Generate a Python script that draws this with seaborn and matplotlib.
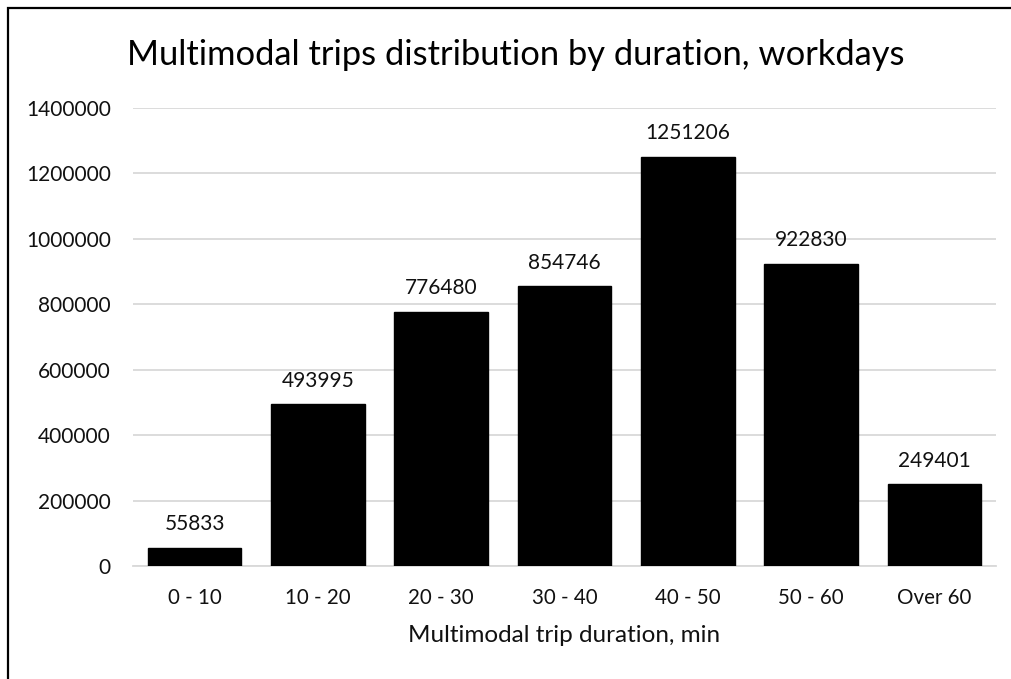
import matplotlib
matplotlib.use("Agg")
import matplotlib.pyplot as plt
import seaborn as sns
from matplotlib.patches import Rectangle

sns.set_theme(style="white")
plt.rcParams['font.family'] = ['Lato', 'DejaVu Sans']

# Daten
duracoes = ["0 - 10", "10 - 20", "20 - 30", "30 - 40", "40 - 50", "50 - 60", "Over 60"]
viagens = [55833, 493995, 776480, 854746, 1251206, 922830, 249401]
y_ticks = [0, 200000, 400000, 600000, 800000, 1000000, 1200000, 1400000]

fig = plt.figure(figsize=(10.12, 6.79), dpi=100)
ax = fig.add_axes([0.1314, 0.1664, 0.8528, 0.6745])

sns.barplot(x=duracoes, y=viagens, color="black", width=0.76, ax=ax, zorder=3)
for p in ax.patches:
    p.set_facecolor("black")
    p.set_edgecolor("black")

ax.set_ylim(0, 1400000)
ax.set_yticks(y_ticks)
ax.set_yticklabels([str(v) for v in y_ticks], fontsize=15, color="#111111")
ax.tick_params(axis="y", length=0, pad=16)
ax.tick_params(axis="x", length=0, pad=16, labelsize=14.8, labelcolor="#111111")
ax.yaxis.grid(True, color="#d9d9d9", linewidth=1.3, zorder=0)
ax.xaxis.grid(False)
for s in ["top", "right", "left"]:
    ax.spines[s].set_visible(False)
ax.spines["bottom"].set_color("#d9d9d9")
ax.spines["bottom"].set_linewidth(1.3)
ax.set_ylabel("")
ax.set_xlabel("Multimodal trip duration, min", fontsize=17.5, color="#111111", labelpad=12)

ax.bar_label(ax.containers[0], labels=[str(v) for v in viagens], padding=10,
             fontsize=15, color="#111111")

fig.text(0.51, 0.904, "Multimodal trips distribution by duration, workdays",
         ha="center", va="baseline", fontsize=24.8, color="black")

# moldura
fig.patches.append(Rectangle((8 / 1012, -0.05), 1.2, 1 - 8 / 679 + 0.05,
                             transform=fig.transFigure, fill=False,
                             edgecolor="black", linewidth=1.6))

plt.savefig("out.png", dpi=100, facecolor="white")
plt.close()
